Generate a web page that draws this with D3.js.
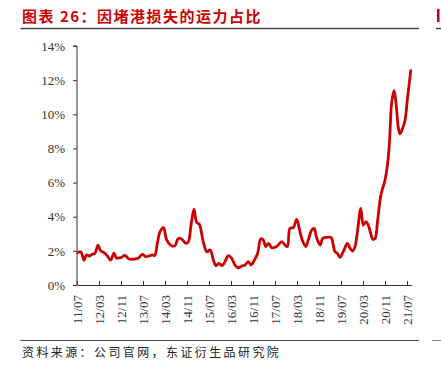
<!DOCTYPE html>
<html>
<head>
<meta charset="utf-8">
<script src="https://cdn.jsdelivr.net/npm/d3@7"></script>
<style>
  html, body { margin: 0; padding: 0; background: #fff; }
  svg { display: block; }
</style>
</head>
<body>
<script>
// months since 2011/07 (decimal) and share of capacity lost (%)
const monthIdx = [0.36,1.35,2.55,3.4,4.36,5.56,6.55,7.64,8.6,9.8,11.0,12.25,13.45,14.3,15.9,17.45,18.9,20.7,22.2,23.75,25.0,26.2,27.4,28.25,29.2,30.2,31.45,32.6,34.4,35.6,36.8,38.1,39.6,40.5,41.45,42.55,43.5,44.5,45.9,47.2,48.4,49.6,50.5,51.6,52.8,53.8,55.0,56.25,57.45,58.65,59.9,61.1,62.3,63.3,64.5,65.7,66.8,67.75,68.6,69.6,70.8,72.6,74.4,75.6,76.5,77.45,78.65,79.9,80.8,81.9,83.2,84.1,85.35,86.2,87.2,88.4,89.3,90.8,92.4,93.2,93.8,94.65,95.6,96.8,98.3,99.3,100.25,101.1,101.9,103.2,104.1,105.1,105.9,106.8,107.5,108.4,109.2,110.2,110.8,112.0,112.8,113.6,114.4,115.3,116.0,116.8,117.45,118.4,119.3,120.1,121.35];
const shareValues = [1.9,1.95,1.46,1.76,1.7,1.8,1.86,2.34,2.0,1.9,1.72,1.46,1.86,1.6,1.6,1.74,1.52,1.52,1.56,1.8,1.66,1.7,1.76,1.72,2.44,3.12,3.36,2.64,2.3,2.3,2.73,2.68,2.44,2.54,3.5,4.45,3.67,3.55,2.54,1.95,2.05,1.46,1.13,1.27,1.13,1.37,1.72,1.56,1.17,1.01,1.11,1.17,1.37,1.17,1.46,1.86,2.7,2.64,2.25,2.44,2.19,2.25,2.54,2.34,2.25,3.32,3.36,3.85,3.32,2.64,2.25,2.64,3.22,3.32,2.73,2.34,2.73,2.79,2.77,2.34,1.95,1.86,1.62,1.95,2.44,2.15,1.99,2.25,3.03,4.49,3.51,3.71,3.51,3.03,2.68,2.73,3.61,4.98,5.47,6.15,6.93,8.3,10.64,11.38,10.64,9.27,8.85,9.18,9.67,10.84,12.55];
const xTickMonths = [0,8,16,24,32,40,48,56,64,72,80,88,96,104,112,120];
const xTickLabels = ["11/07","12/03","12/11","13/07","14/03","14/11","15/07","16/03","16/11","17/07","18/03","18/11","19/07","20/03","20/11","21/07"];
const yTickValues = [0,2,4,6,8,10,12,14];
const titleText = "图表 26：因堵港损失的运力占比";
const sourceText = "资料来源：公司官网，东证衍生品研究院";

const W = 441, H = 366;
const svg = d3.select("body").append("svg").attr("width", W).attr("height", H);
svg.append("rect").attr("width", W).attr("height", H).attr("fill", "#fff");

const red = "#cc0000";
const serif = "'Liberation Serif', 'Times New Roman', serif";
const cjk = "'Noto Sans CJK SC', sans-serif";

// title
svg.append("text").attr("x", 22).attr("y", 22)
  .attr("fill", red).attr("font-family", cjk).attr("font-weight", "bold")
  .attr("font-size", 15).attr("letter-spacing", 1.5).text(titleText);
svg.append("line").attr("x1", 20.5).attr("x2", 419).attr("y1", 28.5).attr("y2", 28.5)
  .attr("stroke", "#444").attr("stroke-width", 1.5);
// edge of the neighbouring chart at the right border
svg.append("rect").attr("x", 437).attr("y", 9).attr("width", 2.5).attr("height", 13).attr("fill", red);
svg.append("line").attr("x1", 436).attr("x2", 441).attr("y1", 28.5).attr("y2", 28.5)
  .attr("stroke", "#444").attr("stroke-width", 1.5);

// scales
const x = d3.scaleLinear().domain([0, 121.7]).range([77, 411.7]);
const y = d3.scaleLinear().domain([0, 14]).range([285, 46]);

// y axis
const yAxis = d3.axisLeft(y).tickValues(yTickValues).tickSize(4).tickPadding(8)
  .tickFormat(d => d + "%");
const gy = svg.append("g").attr("transform", "translate(77,0)").call(yAxis);
gy.select(".domain").attr("stroke", "#333").attr("d", `M-4,${y(14)}H0V${y(0)}`);
gy.selectAll(".tick line").attr("stroke", "#333");
gy.selectAll("text").attr("font-family", serif).attr("font-size", 13).attr("fill", "#333");

// x axis
const xAxis = d3.axisBottom(x).tickValues(xTickMonths).tickSize(-4).tickSizeOuter(0)
  .tickFormat((d, i) => xTickLabels[i]);
const gx = svg.append("g").attr("transform", "translate(0,285)").call(xAxis);
gx.select(".domain").attr("stroke", "#333");
gx.selectAll(".tick line").attr("stroke", "#333");
gx.selectAll("text")
  .attr("font-family", serif).attr("font-size", 13).attr("fill", "#333")
  .attr("text-anchor", "end").attr("dy", "0.35em")
  .attr("transform", "translate(0,10) rotate(-90)")
  .attr("x", 0).attr("y", 0);

// line
const data = monthIdx.map((m, i) => ({ m, v: shareValues[i] }));
const line = d3.line().x(d => x(d.m)).y(d => y(d.v)).curve(d3.curveCatmullRom.alpha(0.5));
svg.append("path").datum(data).attr("d", line)
  .attr("fill", "none").attr("stroke", red).attr("stroke-width", 2.8)
  .attr("stroke-linejoin", "round").attr("stroke-linecap", "round");

// footer
svg.append("line").attr("x1", 20.5).attr("x2", 419).attr("y1", 340.5).attr("y2", 340.5)
  .attr("stroke", "#444").attr("stroke-width", 1);
svg.append("line").attr("x1", 432).attr("x2", 441).attr("y1", 340.5).attr("y2", 340.5)
  .attr("stroke", "#888").attr("stroke-width", 1);
svg.append("text").attr("x", 22).attr("y", 357)
  .attr("fill", "#222").attr("font-family", cjk).attr("font-size", 12)
  .attr("letter-spacing", 2.4).text(sourceText);
</script>
</body>
</html>
